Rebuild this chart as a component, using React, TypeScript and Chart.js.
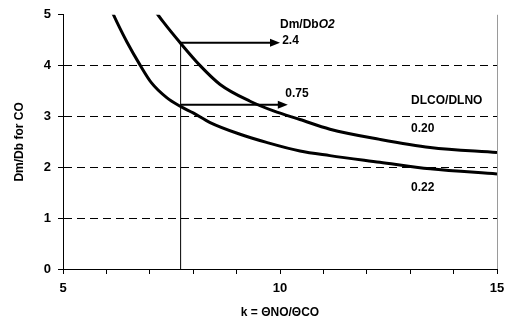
import React, { useEffect, useRef } from "react";
import { Chart, registerables } from "chart.js";

Chart.register(...registerables);

// Curve for DLCO/DLNO = 0.20 (Dm/Db O2 = 2.4)
const upperK = [7.12, 7.31, 7.7, 8.16, 8.62, 9.31, 9.85, 10.46, 11.15, 12.3, 13.46, 15.0];
const upperY = [5.08, 4.86, 4.45, 4.0, 3.63, 3.3, 3.11, 2.94, 2.75, 2.55, 2.39, 2.29];
// Curve for DLCO/DLNO = 0.22 (Dm/Db O2 = 0.75)
const lowerK = [6.12, 6.24, 6.47, 6.77, 7.04, 7.39, 7.7, 8.0, 8.39, 9.08, 9.69, 10.46, 11.15, 12.3, 13.46, 15.0];
const lowerY = [5.08, 4.86, 4.47, 4.02, 3.66, 3.37, 3.2, 3.07, 2.88, 2.65, 2.49, 2.32, 2.23, 2.1, 1.97, 1.87];

// Marker line and arrows
const markerK = 7.71;
const markerTopY = 4.46;
const arrowStartK = [7.71, 7.71];
const arrowEndK = [10.0, 10.18];
const arrowY = [4.45, 3.23];

// Text annotations (data coordinates, left-aligned, vertically centred)
const noteTexts = ["2.4", "0.75", "DLCO/DLNO", "0.20", "0.22"];
const noteK = [10.05, 10.12, 13.02, 13.02, 13.02];
const noteY = [4.5, 3.44, 3.31, 2.76, 1.6];
const headerK = 10.0;
const headerY = 4.8;

const xTickLabels = [5, 10, 15];
const yMin = 0;
const yMax = 5;
const xMin = 5;
const xMax = 15;

const FONT = "'Liberation Sans', Arial, sans-serif";

const annotationPlugin = {
  id: "annotations",
  afterDatasetsDraw(chart: any) {
    const { ctx, chartArea, scales } = chart;
    const xs = scales.x;
    const ys = scales.y;
    ctx.save();
    // right border (gray)
    ctx.strokeStyle = "#9a9a9a";
    ctx.lineWidth = 1;
    ctx.beginPath();
    ctx.moveTo(Math.round(chartArea.right) + 0.5, chartArea.top);
    ctx.lineTo(Math.round(chartArea.right) + 0.5, chartArea.bottom);
    ctx.stroke();

    // arrowheads
    ctx.fillStyle = "#000";
    for (let i = 0; i < arrowEndK.length; i++) {
      const px = xs.getPixelForValue(arrowEndK[i]);
      const py = ys.getPixelForValue(arrowY[i]);
      ctx.beginPath();
      ctx.moveTo(px, py);
      ctx.lineTo(px - 10, py - 4);
      ctx.lineTo(px - 10, py + 4);
      ctx.closePath();
      ctx.fill();
    }

    // texts
    ctx.textBaseline = "middle";
    ctx.textAlign = "left";
    ctx.font = `bold 12px ${FONT}`;
    for (let i = 0; i < noteTexts.length; i++) {
      ctx.fillText(noteTexts[i], xs.getPixelForValue(noteK[i]), ys.getPixelForValue(noteY[i]));
    }
    const hx = xs.getPixelForValue(headerK);
    const hy = ys.getPixelForValue(headerY);
    ctx.font = `bold 12px ${FONT}`;
    ctx.fillText("Dm/Db", hx, hy);
    const w = ctx.measureText("Dm/Db").width;
    ctx.font = `italic bold 12px ${FONT}`;
    ctx.fillText("O2", hx + w, hy);
    ctx.restore();
  },
};

export default function App() {
  const ref = useRef<HTMLCanvasElement | null>(null);

  useEffect(() => {
    if (!ref.current) return;
    const upper = upperK.map((k, i) => ({ x: k, y: upperY[i] }));
    const lower = lowerK.map((k, i) => ({ x: k, y: lowerY[i] }));
    const marker = [
      { x: markerK, y: yMin },
      { x: markerK, y: markerTopY },
    ];
    const arrows = arrowY.map((y, i) => [
      { x: arrowStartK[i], y },
      { x: arrowEndK[i] - 0.15, y },
    ]);

    const chart = new Chart(ref.current, {
      type: "scatter",
      data: {
        datasets: [
          {
            data: upper,
            showLine: true,
            borderColor: "#000",
            borderWidth: 3,
            pointRadius: 0,
            cubicInterpolationMode: "monotone",
          },
          {
            data: lower,
            showLine: true,
            borderColor: "#000",
            borderWidth: 3,
            pointRadius: 0,
            cubicInterpolationMode: "monotone",
          },
          {
            data: marker,
            showLine: true,
            borderColor: "#000",
            borderWidth: 1,
            pointRadius: 0,
          },
          ...arrows.map((a) => ({
            data: a,
            showLine: true,
            borderColor: "#000",
            borderWidth: 2,
            pointRadius: 0,
          })),
        ],
      },
      options: {
        responsive: false,
        animation: false,
        devicePixelRatio: 1,
        layout: { padding: { top: 13, right: 15, left: 0, bottom: 0 } },
        plugins: {
          legend: { display: false },
          tooltip: { enabled: false },
        },
        scales: {
          x: {
            type: "linear",
            min: xMin,
            max: xMax,
            afterFit: (s: any) => {
              s.height = 58;
            },
            ticks: {
              stepSize: 1,
              autoSkip: false,
              maxRotation: 0,
              padding: 7,
              color: "#000",
              font: { family: FONT, size: 13, weight: "bold" },
              callback: (v: any) => (xTickLabels.includes(Number(v)) ? String(v) : ""),
            },
            grid: {
              drawOnChartArea: false,
              color: "#000",
              tickLength: 5,
            },
            border: { color: "#000", width: 1 },
            title: {
              display: true,
              text: "k = ΘNO/ΘCO",
              color: "#000",
              font: { family: FONT, size: 12, weight: "bold" },
              padding: { top: 0, bottom: 7 },
            },
          },
          y: {
            type: "linear",
            min: yMin,
            max: yMax,
            afterFit: (s: any) => {
              s.width = 63;
            },
            ticks: {
              stepSize: 1,
              padding: 7,
              color: "#000",
              font: { family: FONT, size: 13, weight: "bold" },
            },
            grid: {
              color: (c: any) =>
                c.tick && (c.tick.value === yMin || c.tick.value === yMax) ? "rgba(0,0,0,0)" : "#000",
              tickColor: "#000",
              tickLength: 5,
              lineWidth: 1,
            },
            border: { color: "#000", width: 1, dash: [8, 5] },
            title: {
              display: true,
              text: "Dm/Db for CO",
              color: "#000",
              font: { family: FONT, size: 12, weight: "bold" },
              padding: { top: 12, bottom: 0 },
            },
          },
        },
      } as any,
      plugins: [annotationPlugin],
    });
    return () => chart.destroy();
  }, []);

  return (
    <div style={{ position: "absolute", left: 0, top: 0, width: 512, height: 327, background: "#fff" }}>
      <canvas ref={ref} width={512} height={327} />
    </div>
  );
}
